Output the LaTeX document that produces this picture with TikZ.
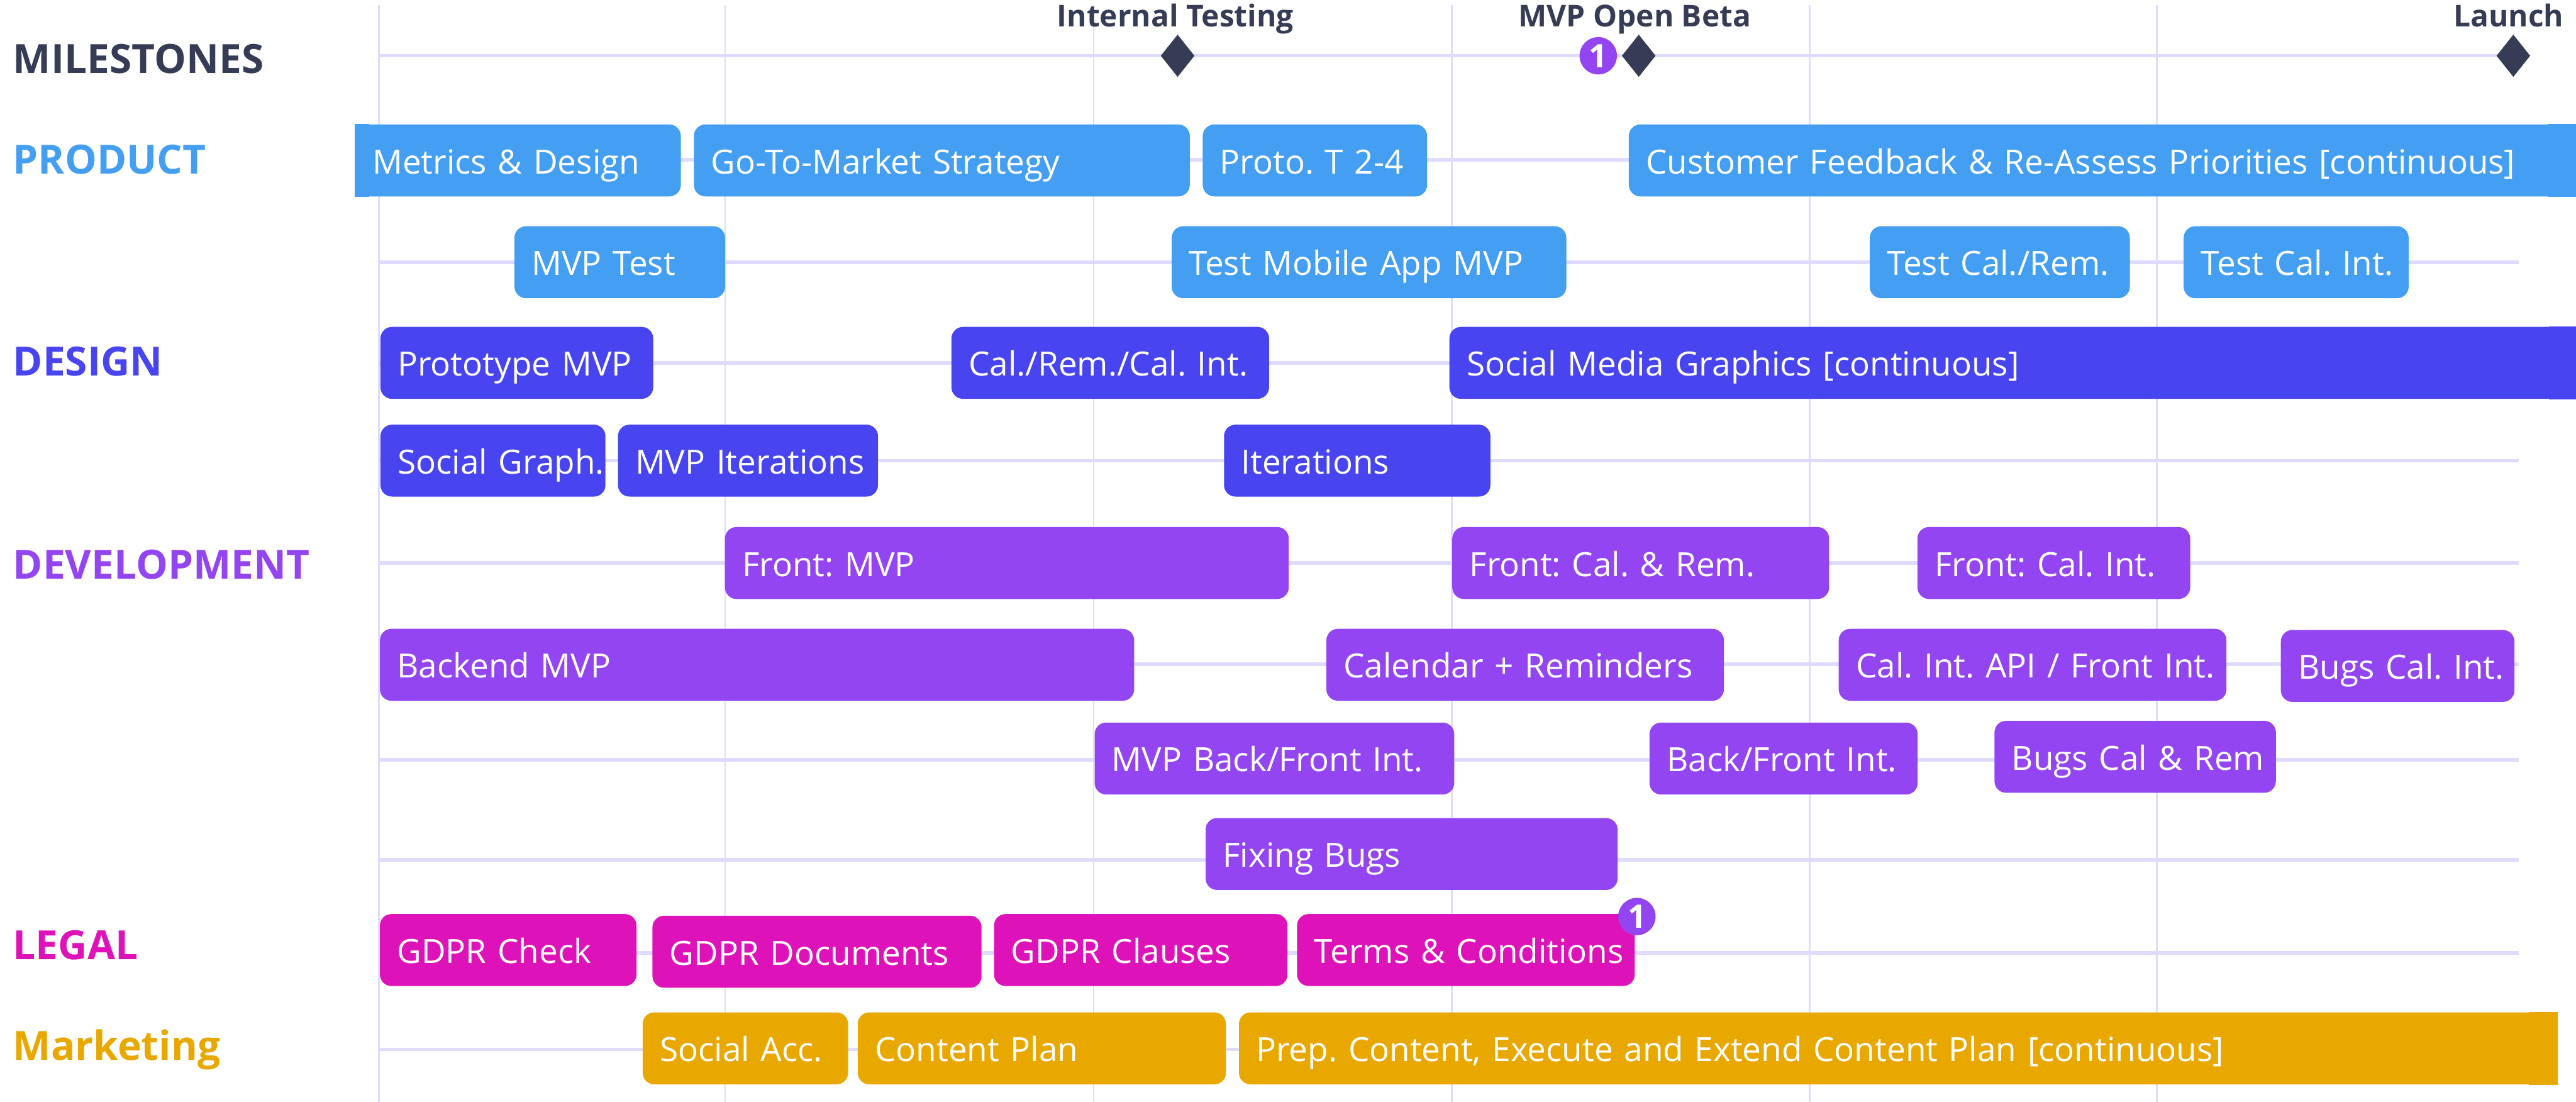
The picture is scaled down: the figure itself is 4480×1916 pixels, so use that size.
\documentclass[tikz,border=0pt]{standalone}
\usepackage{fontspec}
\setmainfont{Open Sans}
\usetikzlibrary{shapes.geometric,positioning}
\frenchspacing

\definecolor{ink}{HTML}{363C55}
\definecolor{prodblue}{HTML}{449FF3}
\definecolor{dsgnblue}{HTML}{4845F0}
\definecolor{devpurple}{HTML}{9345F2}
\definecolor{legalpink}{HTML}{DD12B8}
\definecolor{mktgold}{HTML}{E9A800}
\definecolor{gridline}{HTML}{DFDBFD}

% one bar: name, from x, to x, row y, style, text
\newcommand{\gtask}[6]{%
  \pgfmathsetmacro{\gw}{(#3-#2-60)*0.284528}%
  \node[#5, text width=\gw pt, anchor=west] (#1) at (#2,#4) {\mbox{#6}};}

\begin{document}
\begin{tikzpicture}[x=0.01cm, y=-0.01cm,
    gbar/.style={rectangle, rounded corners=0.2cm, inner xsep=0.3cm, inner ysep=0pt,
      minimum height=1.25cm, text height=0.54cm, text depth=0.08cm,
      align=left, text=white, font=\fontsize{16.5}{18}\selectfont},
    prod/.style={gbar, fill=prodblue},
    dsgn/.style={gbar, fill=dsgnblue},
    dev/.style={gbar, fill=devpurple},
    legal/.style={gbar, fill=legalpink},
    mkt/.style={gbar, fill=mktgold},
    track/.style={anchor=base west, inner sep=0pt, font=\bfseries\fontsize{19.9}{22}\selectfont},
    stone/.style={diamond, fill=ink, inner sep=0pt, minimum width=0.59cm, minimum height=0.74cm},
    stonelabel/.style={inner sep=0pt, text=ink, font=\bfseries\fontsize{14.9}{18}\selectfont},
    badge/.style={circle, fill=devpurple, text=white, inner sep=0pt, minimum size=0.65cm,
      font=\bfseries\fontsize{16}{16}\selectfont}
  ]
  \useasboundingbox (0,0) rectangle (4480,1916);

  % grid
  \foreach \x in {659,1261,1902,2525,3147,3751}
    \draw[gridline, line width=0.03cm] (\x,9) -- (\x,1916);
  \foreach \y in {278,456,631,801,979,1155,1321,1495,1657,1825}
    \draw[gridline, line width=0.06cm] (660,\y) -- (4380,\y);
  \draw[gridline, line width=0.06cm] (660,97) -- (4371,97);

  % tracks
  \node[track, text=ink] (milestones) at (22,127) {MILESTONES};
  \node[track, text=prodblue] (product) at (22,302) {PRODUCT};
  \node[track, text=dsgnblue] (design) at (22,654) {DESIGN};
  \node[track, text=devpurple] (development) at (22,1007) {DEVELOPMENT};
  \node[track, text=legalpink] (legalrow) at (22,1668) {LEGAL};
  \node[track, text=mktgold] (marketing) at (22,1843) {Marketing};

  % milestones
  \node[stone] (testing) at (2048,97) {};
  \node[stone] (beta) at (2850,97) {};
  \node[stone] (launch) at (4371,97) {};
  \node[stonelabel, anchor=base] (testinglbl) at (2044,47) {Internal Testing};
  \node[stonelabel, anchor=base] (betalbl) at (2843,47) {MVP Open Beta};
  \node[stonelabel, anchor=base east] (launchlbl) at (4459,47) {Launch};
  \node[badge, left=0.07cm of beta] (betanote) {1};

  % product
  \gtask{metrics}{617}{1183}{279}{prod}{Metrics \& Design}
  \gtask{gtm}{1206}{2068}{279}{prod}{Go-To-Market Strategy}
  \gtask{proto}{2091}{2481}{279}{prod}{Proto. T 2-4}
  \gtask{feedback}{2832}{4480}{279}{prod}{Customer Feedback \& Re-Assess Priorities [continuous]}
  \gtask{mvptest}{894}{1260}{456}{prod}{MVP Test}
  \gtask{testapp}{2037}{2723}{456}{prod}{Test Mobile App MVP}
  \gtask{testcal}{3251}{3703}{456}{prod}{Test Cal./Rem.}
  \gtask{testint}{3797}{4188}{456}{prod}{Test Cal. Int.}
  \fill[prodblue] (metrics.north west) rectangle ([xshift=0.25cm]metrics.south west);
  \fill[prodblue] (feedback.north east) rectangle ([xshift=-0.5cm]feedback.south east);

  % design
  \gtask{protomvp}{661}{1135}{631}{dsgn}{Prototype MVP}
  \gtask{calrem}{1654}{2206}{631}{dsgn}{Cal./Rem./Cal. Int.}
  \gtask{socialmedia}{2520}{4480}{631}{dsgn}{Social Media Graphics [continuous]}
  \gtask{graph}{661}{1052}{801}{dsgn}{Social Graph.}
  \gtask{mvpiter}{1074}{1526}{801}{dsgn}{MVP Iterations}
  \gtask{iter}{2128}{2591}{801}{dsgn}{Iterations}
  \fill[dsgnblue] (socialmedia.north east) rectangle ([xshift=-0.5cm]socialmedia.south east);

  % development
  \gtask{frontmvp}{1260}{2240}{979}{dev}{Front: MVP}
  \gtask{frontcal}{2525}{3180}{979}{dev}{Front: Cal. \& Rem.}
  \gtask{frontint}{3334}{3808}{979}{dev}{Front: Cal. Int.}
  \gtask{backend}{660}{1971}{1156}{dev}{Backend MVP}
  \gtask{calendar}{2306}{2997}{1156}{dev}{Calendar + Reminders}
  \gtask{calapi}{3197}{3871}{1156}{dev}{Cal. Int. API / Front Int.}
  \gtask{bugsint}{3966}{4372}{1158}{dev}{Bugs Cal. Int.}
  \gtask{mvpbf}{1903}{2528}{1319}{dev}{MVP Back/Front Int.}
  \gtask{backfront}{2868}{3334}{1319}{dev}{Back/Front Int.}
  \gtask{bugsrem}{3468}{3957}{1316}{dev}{Bugs Cal \& Rem}
  \gtask{fixing}{2096}{2812}{1485}{dev}{Fixing Bugs}

  % legal
  \gtask{gdprcheck}{660}{1106}{1652}{legal}{GDPR Check}
  \gtask{gdprdocs}{1134}{1706}{1655}{legal}{GDPR Documents}
  \gtask{gdprclause}{1728}{2238}{1652}{legal}{GDPR Clauses}
  \gtask{terms}{2255}{2842}{1652}{legal}{Terms \& Conditions}
  \node[badge] (termsnote) at ([shift={(3,5)}]terms.north east) {1};

  % marketing
  \gtask{socialacc}{1117}{1474}{1823}{mkt}{Social Acc.}
  \gtask{content}{1491}{2131}{1823}{mkt}{Content Plan}
  \gtask{prep}{2154}{4445}{1823}{mkt}{Prep. Content, Execute and Extend Content Plan [continuous]}
  \fill[mktgold] (prep.north east) rectangle ([xshift=-0.5cm]prep.south east);
\end{tikzpicture}
\end{document}
